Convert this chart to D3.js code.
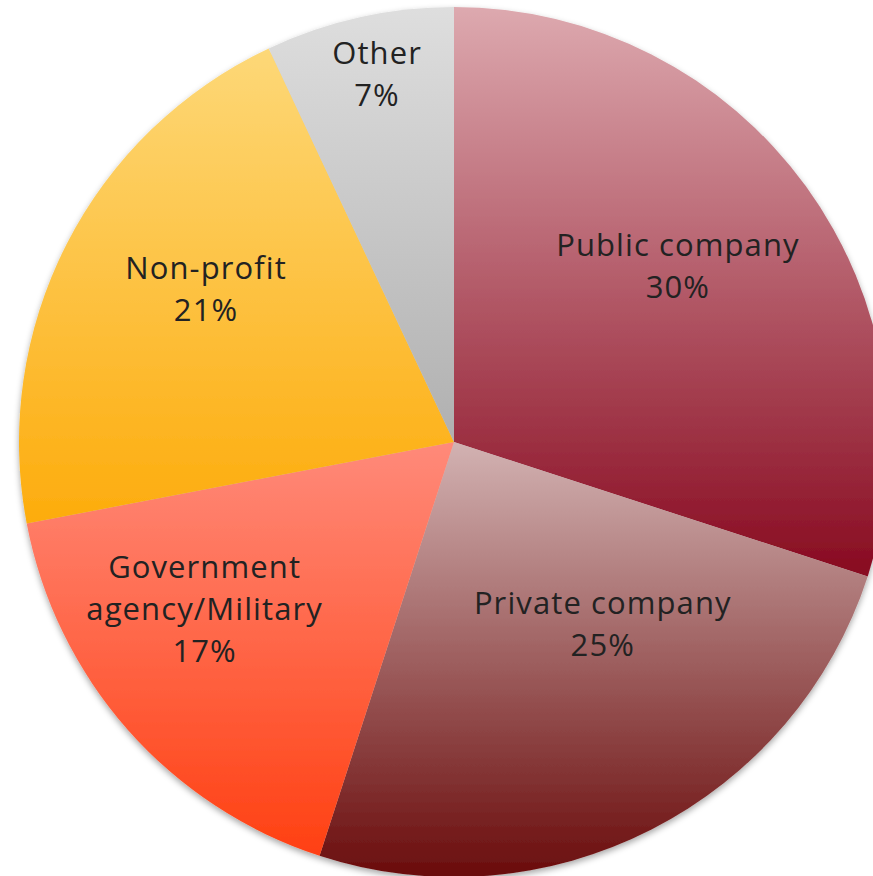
<!DOCTYPE html>
<html>
<head>
<meta charset="utf-8">
<script src="https://cdn.jsdelivr.net/npm/d3@7"></script>
<style>
  html, body { margin: 0; padding: 0; background: #fff; }
  svg { display: block; }
</style>
</head>
<body>
<svg id="chart" width="873" height="876"></svg>
<script>
// Employer type shares (percent)
const categories = ["Public company", "Private company", "Government agency/Military", "Non-profit", "Other"];
const shares = [30, 25, 17, 21, 7];
// Label lines drawn inside each slice
const labelLines = [
  ["Public company", "30%"],
  ["Private company", "25%"],
  ["Government", "agency/Military", "17%"],
  ["Non-profit", "21%"],
  ["Other", "7%"]
];
// Vertical gradient stops (top, bottom) for each slice
const gradTop = ["#dda9af", "#d2b2b2", "#ff8a7a", "#fdd878", "#dedede"];
const gradBottom = ["#880a20", "#6a0c0c", "#ff4012", "#fdac0c", "#b0b0b0"];

// Layout
const width = 873, height = 876;
const cx = 454, cy = 442, radius = 435;
// label placement: [fraction of radius, angle nudge in degrees]
const labelPlace = [[0.655, -2.2], [0.54, -12.3], [0.69, 7.6], [0.67, 4.7], [0.865, 0.8]];

const svg = d3.select("#chart");
const defs = svg.append("defs");

const shadow = defs.append("filter").attr("id", "pieShadow")
  .attr("x", "-10%").attr("y", "-10%").attr("width", "120%").attr("height", "120%");
shadow.append("feDropShadow")
  .attr("dx", 0).attr("dy", 3).attr("stdDeviation", 3)
  .attr("flood-color", "#000").attr("flood-opacity", 0.35);

categories.forEach((c, i) => {
  const g = defs.append("linearGradient").attr("id", "grad" + i)
    .attr("x1", 0).attr("y1", 0).attr("x2", 0).attr("y2", 1);
  g.append("stop").attr("offset", "0%").attr("stop-color", gradTop[i]);
  g.append("stop").attr("offset", "100%").attr("stop-color", gradBottom[i]);
});

const pie = d3.pie().sort(null).value(d => d)(shares);
const arc = d3.arc().innerRadius(0).outerRadius(radius);

const g = svg.append("g").attr("transform", `translate(${cx},${cy})`);
g.append("g").attr("filter", "url(#pieShadow)")
  .selectAll("path").data(pie).join("path")
  .attr("d", arc)
  .attr("fill", (d, i) => `url(#grad${i})`);

const lineH = 42;
const labels = g.append("g")
  .attr("font-family", "'Open Sans', sans-serif")
  .attr("font-size", 31)
  .attr("letter-spacing", 1.1)
  .attr("fill", "#222")
  .attr("text-anchor", "middle");

pie.forEach((d, i) => {
  const [frac, nudge] = labelPlace[i];
  const a = (d.startAngle + d.endAngle) / 2 + nudge * Math.PI / 180;
  const x = Math.sin(a) * radius * frac;
  const y = -Math.cos(a) * radius * frac;
  const lines = labelLines[i];
  const t = labels.append("text").attr("x", x).attr("y", y);
  lines.forEach((s, k) => {
    t.append("tspan").attr("x", x)
      .attr("y", y + (k - (lines.length - 1) / 2) * lineH)
      .attr("dy", "0.35em")
      .text(s);
  });
});
</script>
</body>
</html>
